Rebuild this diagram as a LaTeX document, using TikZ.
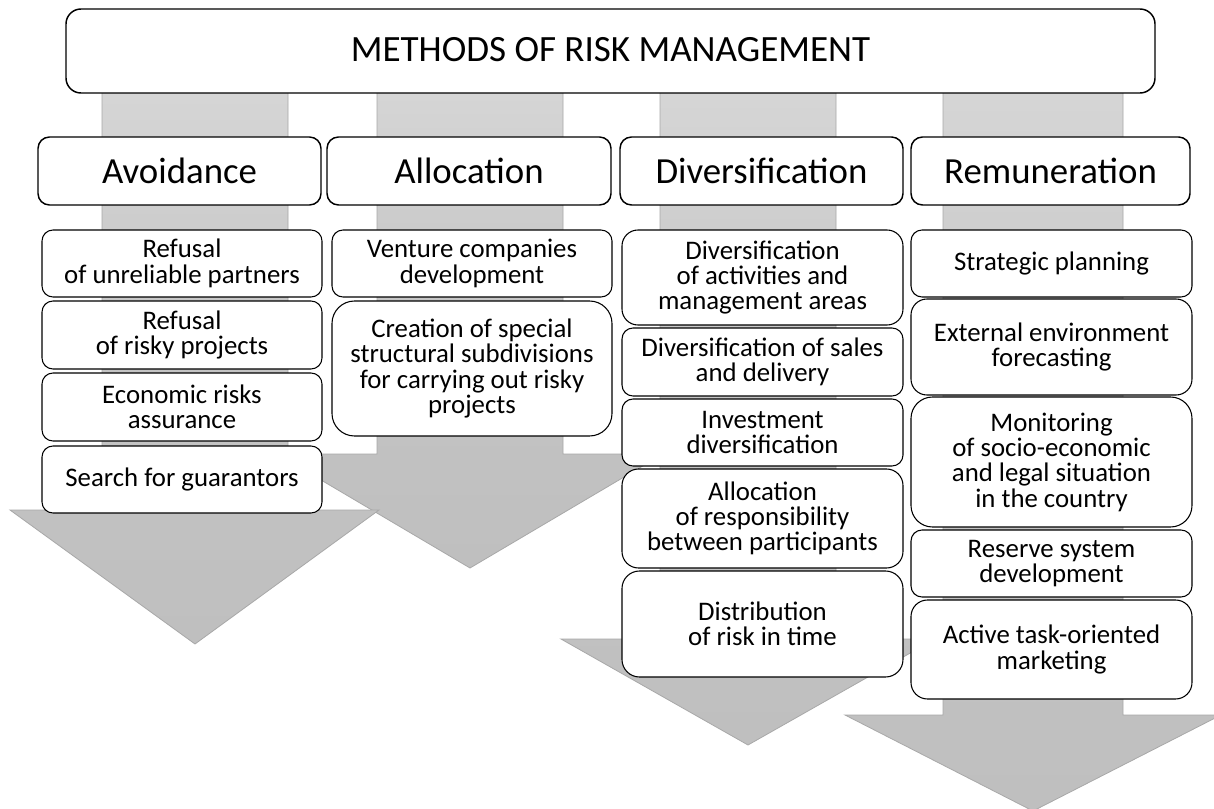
\documentclass[tikz,border=0pt]{standalone}
\usepackage{fontspec}
\setmainfont{Carlito}
\definecolor{arrtop}{RGB}{214,214,214}
\definecolor{arrmid}{RGB}{196,196,196}
\definecolor{arrbot}{RGB}{191,191,191}
\definecolor{arrline}{RGB}{168,168,168}
\tikzset{
  topbox/.style={draw=black, line width=1.1pt, fill=white, inner sep=0pt, align=center, font=\fontsize{27.8}{32}\selectfont},
  catbox/.style={draw=black, line width=1.1pt, fill=white, inner sep=0pt, align=center, font=\fontsize{27.6}{32}\selectfont},
  itembox/.style={draw=black, line width=0.8pt, fill=white, inner sep=0pt, align=center, font=\fontsize{20.1}{19}\selectfont},
  arrowshape/.style={draw=arrline, line width=0.6pt, top color=arrtop, bottom color=arrbot, middle color=arrmid}
}
% name, style, x1, y1, x2, y2, radius (px), text
\newcommand\mybox[8]{%
  \pgfmathsetlengthmacro\myrad{#7*0.75pt}%
  \pgfmathsetlengthmacro\mywid{(#5-#3)*0.75pt}%
  \pgfmathsetlengthmacro\myhei{(#6-#4)*0.75pt}%
  \node[#2, rounded corners=\myrad, minimum width=\mywid, minimum height=\myhei] (#1) at ({(#3+#5)/2},{(#4+#6)/2}) {#8};}
\begin{document}
\begin{tikzpicture}[x=0.75pt,y=-0.75pt]
\useasboundingbox (0,0) rectangle (1214,809);
\fill[white] (0,0) rectangle (1214,809);
% arrows (drawn right to left so the left ones lie on top)
\draw[arrowshape] (943,80) -- (1123,80) -- (1123,715) -- (1221,715) -- (1033,811) -- (845,715) -- (943,715) -- cycle;
\draw[arrowshape] (660,80) -- (836,80) -- (836,639) -- (935,639) -- (748,745) -- (561,639) -- (660,639) -- cycle;
\draw[arrowshape] (377,80) -- (563,80) -- (563,454) -- (663,454) -- (470,568) -- (277,454) -- (377,454) -- cycle;
\draw[arrowshape] (102,80) -- (288,80) -- (288,510) -- (379,510) -- (195,644) -- (10,510) -- (102,510) -- cycle;
% title
\mybox{top}{topbox}{66}{9}{1155}{93}{15}{\raisebox{2pt}{METHODS OF RISK MANAGEMENT}}
% categories
\mybox{avo}{catbox}{38}{137}{321}{205}{11.5}{Avoidance}
\mybox{all}{catbox}{327}{137}{611}{205}{11.5}{Allocation}
\mybox{div}{catbox}{620}{137}{903}{205}{11.5}{Diversification}
\mybox{rem}{catbox}{911}{137}{1190}{205}{11.5}{Remuneration}
% avoidance items
\mybox{avoA}{itembox}{42}{230}{322}{297}{11}{Refusal\\of unreliable partners}
\mybox{avoB}{itembox}{42}{301}{322}{369}{11}{Refusal\\of risky projects}
\mybox{avoC}{itembox}{42}{373}{322}{441}{11}{Economic risks\\assurance}
\mybox{avoD}{itembox}{42}{446}{322}{513}{11}{Search for guarantors}
% allocation items
\mybox{allA}{itembox}{332}{230}{612}{297}{11}{Venture companies\\development}
\mybox{allB}{itembox}{332}{301}{612}{436}{22.5}{Creation of special\\structural subdivisions\\for carrying out risky\\projects}
% diversification items
\mybox{divA}{itembox}{622}{230}{903}{325}{16}{Diversification\\of activities and\\management areas}
\mybox{divB}{itembox}{622}{328}{903}{396}{11}{Diversification of sales\\and delivery}
\mybox{divC}{itembox}{622}{399}{903}{466}{11}{Investment\\diversification}
\mybox{divD}{itembox}{622}{469}{903}{568}{16.5}{Allocation\\of responsibility\\between participants}
\mybox{divE}{itembox}{622}{571}{903}{677}{17.5}{Distribution\\of risk in time}
% remuneration items
\mybox{remA}{itembox}{911}{230}{1192}{297}{11}{Strategic planning}
\mybox{remB}{itembox}{911}{299}{1192}{395}{16}{External environment\\forecasting}
\mybox{remC}{itembox}{911}{397}{1192}{527}{21.5}{Monitoring\\of socio-economic\\and legal situation\\in the country}
\mybox{remD}{itembox}{911}{530}{1192}{597}{11}{Reserve system\\development}
\mybox{remE}{itembox}{911}{600}{1192}{699}{16.5}{Active task-oriented\\marketing}
\end{tikzpicture}
\end{document}
